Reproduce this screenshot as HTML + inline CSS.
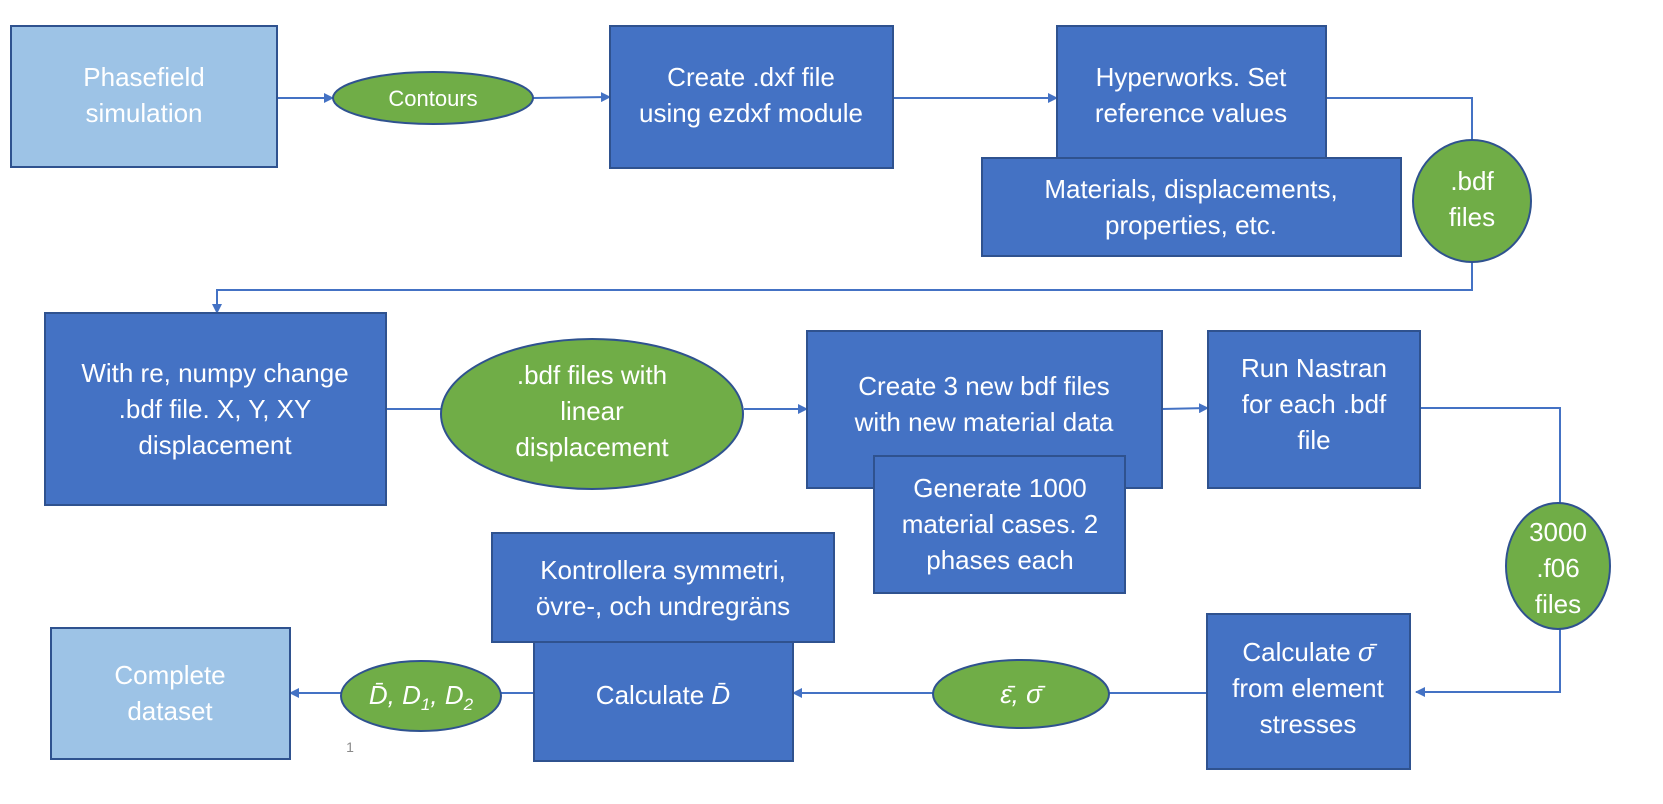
<!DOCTYPE html>
<html><head><meta charset="utf-8"><style>
html,body{margin:0;padding:0;background:#fff;}
svg{display:block;}
text{font-family:"Liberation Sans",sans-serif;fill:#fff;font-size:26px;text-anchor:middle;}
.b{fill:#4472C4;stroke:#2F528F;stroke-width:2;}
.l{fill:#9DC3E6;stroke:#2F528F;stroke-width:2;}
.g{fill:#70AD47;stroke:#2F528F;stroke-width:2;}
.c{fill:none;stroke:#4472C4;stroke-width:2;}
</style></head><body>
<svg width="1663" height="804" viewBox="0 0 1663 804" xmlns="http://www.w3.org/2000/svg">
<defs><marker id="a" markerWidth="10" markerHeight="10" refX="9" refY="5" orient="auto" markerUnits="userSpaceOnUse"><path d="M0,0 L10,5 L0,10 z" fill="#4472C4"/></marker></defs>

<path class="c" d="M277,98 L333,98" marker-end="url(#a)"/>
<path class="c" d="M533,98 L610,97" marker-end="url(#a)"/>
<path class="c" d="M893,98 L1057,98" marker-end="url(#a)"/>
<path class="c" d="M1326,98 L1472,98 L1472,146"/>
<path class="c" d="M1472,256 L1472,290 L217,290 L217,313" marker-end="url(#a)"/>
<path class="c" d="M386,409 L441,409"/>
<path class="c" d="M744,409 L807,409" marker-end="url(#a)"/>
<path class="c" d="M1162,409 L1208,408" marker-end="url(#a)"/>
<path class="c" d="M1420,408 L1560,408 L1560,505"/>
<path class="c" d="M1560,625 L1560,692 L1416,692" marker-end="url(#a)"/>
<path class="c" d="M1207,693 L1109,693"/>
<path class="c" d="M933,693 L793,693" marker-end="url(#a)"/>
<path class="c" d="M534,693 L501,693"/>
<path class="c" d="M341,693 L290,693" marker-end="url(#a)"/>

<rect class="l" x="11" y="26" width="266" height="141"/>
<text x="144" y="86">Phasefield</text><text x="144" y="122">simulation</text>
<ellipse class="g" cx="433" cy="98" rx="100" ry="26"/>
<text x="433" y="106" style="font-size:22px">Contours</text>
<rect class="b" x="610" y="26" width="283" height="142"/>
<text x="751" y="86">Create .dxf file</text><text x="751" y="122">using ezdxf module</text>
<rect class="b" x="1057" y="26" width="269" height="132"/>
<text x="1191" y="86">Hyperworks. Set</text><text x="1191" y="122">reference values</text>
<rect class="b" x="982" y="158" width="419" height="98"/>
<text x="1191" y="198">Materials, displacements,</text><text x="1191" y="234">properties, etc.</text>
<ellipse class="g" cx="1472" cy="201" rx="59" ry="61"/>
<text x="1472" y="190">.bdf</text><text x="1472" y="226">files</text>

<rect class="b" x="45" y="313" width="341" height="192"/>
<text x="215" y="382">With re, numpy change</text><text x="215" y="418">.bdf file. X, Y, XY</text><text x="215" y="454">displacement</text>
<ellipse class="g" cx="592" cy="414" rx="151" ry="75"/>
<text x="592" y="384">.bdf files with</text><text x="592" y="420">linear</text><text x="592" y="456">displacement</text>
<rect class="b" x="807" y="331" width="355" height="157"/>
<text x="984" y="395">Create 3 new bdf files</text><text x="984" y="431">with new material data</text>
<rect class="b" x="874" y="456" width="251" height="137"/>
<text x="1000" y="497">Generate 1000</text><text x="1000" y="533">material cases. 2</text><text x="1000" y="569">phases each</text>
<rect class="b" x="1208" y="331" width="212" height="157"/>
<text x="1314" y="377">Run Nastran</text><text x="1314" y="413">for each .bdf</text><text x="1314" y="449">file</text>
<ellipse class="g" cx="1558" cy="566" rx="52" ry="63"/>
<text x="1558" y="541">3000</text><text x="1558" y="577">.f06</text><text x="1558" y="613">files</text>

<rect class="b" x="492" y="533" width="342" height="109"/>
<text x="663" y="579">Kontrollera symmetri,</text><text x="663" y="615">övre-, och undregräns</text>
<rect class="b" x="534" y="642" width="259" height="119"/>
<text x="663" y="704">Calculate <tspan font-style="italic">D̄</tspan></text>
<ellipse class="g" cx="1021" cy="694" rx="88" ry="34"/>
<text x="1021" y="703" font-style="italic">ε̄, σ̄</text>
<rect class="b" x="1207" y="614" width="203" height="155"/>
<text x="1308" y="661">Calculate <tspan font-style="italic">σ̄</tspan></text><text x="1308" y="697">from element</text><text x="1308" y="733">stresses</text>
<ellipse class="g" cx="421" cy="696" rx="80" ry="35"/>
<text x="421" y="704" font-style="italic" style="font-size:26px">D̄, D<tspan font-size="17" dy="6">1</tspan><tspan dy="-6">, D</tspan><tspan font-size="17" dy="6">2</tspan></text>
<rect class="l" x="51" y="628" width="239" height="131"/>
<text x="170" y="684">Complete</text><text x="170" y="720">dataset</text>
<text x="350" y="752" style="fill:#8a8a8a;font-size:14px">1</text>
</svg>
</body></html>
